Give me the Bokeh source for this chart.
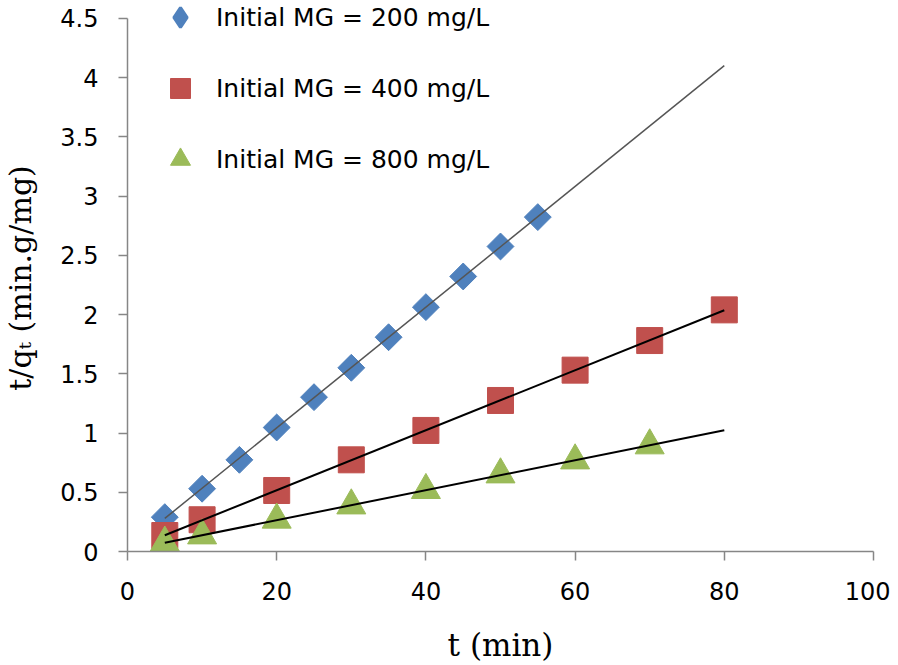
import math
import numpy as np
from bokeh.plotting import figure
from bokeh.models import Range1d, FixedTicker, Legend, LegendItem
from bokeh.embed import file_html
from bokeh.resources import INLINE

# ---- data ----
T_200 = [5, 10, 15, 20, 25, 30, 35, 40, 45, 50, 55]
Q_200 = [0.29, 0.53, 0.774, 1.047, 1.303, 1.551, 1.809, 2.063, 2.322, 2.575, 2.823]
T_400 = [5, 10, 20, 30, 40, 50, 60, 70, 80]
Q_400 = [0.135, 0.268, 0.515, 0.774, 1.022, 1.275, 1.531, 1.781, 2.04]
T_800 = [5, 10, 20, 30, 40, 50, 60, 70]
Q_800 = [0.074, 0.135, 0.268, 0.388, 0.518, 0.65, 0.768, 0.895]
TREND_T = [5, 80]
SERIES_LABELS = ["Initial MG = 200 mg/L", "Initial MG = 400 mg/L", "Initial MG = 800 mg/L"]
X_TICKS = [0, 20, 40, 60, 80, 100]
Y_TICKS = [0, 0.5, 1, 1.5, 2, 2.5, 3, 3.5, 4, 4.5]
Y_TICK_LABELS = ["0", "0.5", "1", "1.5", "2", "2.5", "3", "3.5", "4", "4.5"]
X_TITLE = "t (min)"
Y_TITLE = "t/q\u209c (min.g/mg)"

BLUE, RED, GREEN = "#4F81BD", "#C0504D", "#9BBB59"
AXIS_GREY = "#868686"

# the plotting area reaches a little above the top tick so the legend has room;
# the axis itself is bounded to the tick range
Y_VIEW_TOP = 4.618

p = figure(width=890, height=665, output_backend="svg", toolbar_location=None,
           x_range=Range1d(0, 100), y_range=Range1d(0, Y_VIEW_TOP),
           min_border_left=127, min_border_right=17, min_border_top=4, min_border_bottom=114)
p.outline_line_color = None
p.xgrid.visible = False
p.ygrid.visible = False
p.background_fill_color = "white"

# markers
r200 = p.scatter(T_200, Q_200, marker="square", size=19, angle=math.pi / 4,
                 fill_color=BLUE, line_color=BLUE)
r400 = p.scatter(T_400, Q_400, marker="square", size=26, fill_color=RED, line_color=RED)
r800 = p.scatter(T_800, Q_800, marker="triangle", size=29, fill_color=GREEN, line_color=GREEN)
# legend swatch for the diamonds (the legend does not rotate markers); not drawn in the plot
r200_key = p.scatter(x=[np.nan], y=[np.nan], marker="diamond", size=19,
                     fill_color=BLUE, line_color=BLUE, line_width=3)

# linear trendlines (least squares fit of each series)
for tx, qy, col, w in [(T_200, Q_200, "#555555", 1.5),
                       (T_400, Q_400, "black", 2),
                       (T_800, Q_800, "black", 2)]:
    k, b = np.polyfit(tx, qy, 1)
    tt = np.array(TREND_T, dtype=float)
    p.line(tt, k * tt + b, line_color=col, line_width=w)

# axes
for ax in (p.xaxis[0], p.yaxis[0]):
    ax.axis_line_color = AXIS_GREY
    ax.axis_line_width = 1.5
    ax.major_tick_line_color = AXIS_GREY
    ax.major_tick_line_width = 1.5
    ax.major_tick_out = 9
    ax.major_tick_in = 0
    ax.minor_tick_line_color = None
    ax.major_label_text_font = "DejaVu Sans"
    ax.major_label_text_font_size = "24px"
    ax.major_label_text_color = "black"
    ax.axis_label_text_font = "DejaVu Serif"
    ax.axis_label_text_font_style = "normal"
    ax.axis_label_text_color = "black"

p.xaxis.ticker = FixedTicker(ticks=X_TICKS)
p.yaxis.ticker = FixedTicker(ticks=Y_TICKS)
p.yaxis.bounds = (Y_TICKS[0], Y_TICKS[-1])
p.yaxis.major_label_overrides = {t: l for t, l in zip(Y_TICKS, Y_TICK_LABELS)}
p.xaxis.major_label_standoff = 21
p.yaxis.major_label_standoff = 20

p.xaxis.axis_label = X_TITLE
p.xaxis.axis_label_text_font_size = "31px"
p.xaxis.axis_label_standoff = 24
p.yaxis.axis_label = Y_TITLE
p.yaxis.axis_label_text_font_size = "30px"
p.yaxis.axis_label_standoff = 19

legend = Legend(items=[LegendItem(label=SERIES_LABELS[0], renderers=[r200_key]),
                       LegendItem(label=SERIES_LABELS[1], renderers=[r400]),
                       LegendItem(label=SERIES_LABELS[2], renderers=[r800])],
                location=(28, 367), orientation="vertical",
                glyph_height=50, glyph_width=50, label_height=50, spacing=21,
                padding=0, margin=0, border_line_color=None, background_fill_alpha=0,
                label_text_font="DejaVu Sans", label_text_font_size="25px",
                label_standoff=11, label_text_color="black")
p.add_layout(legend)

open("out.html", "w").write(file_html(p, INLINE))
